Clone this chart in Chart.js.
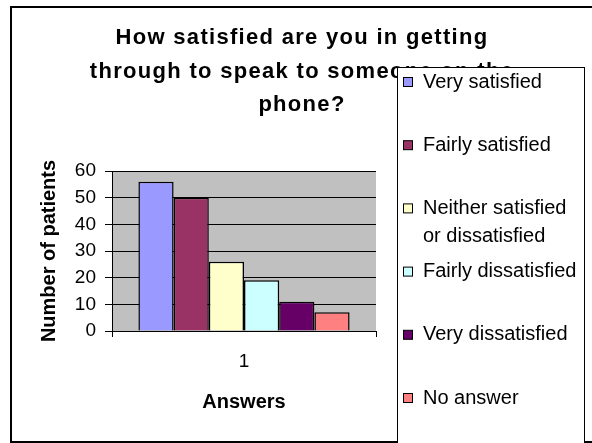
<!DOCTYPE html>
<html>
<head>
<meta charset="utf-8">
<script src="https://cdn.jsdelivr.net/npm/chart.js@4"></script>
<style>
  body { margin: 0; background: #fff; }
  canvas { display: block; }
</style>
</head>
<body>
<canvas id="chart" width="592" height="443"></canvas>
<script>
// Dados do grafico
const categorias = ["1"];
const respostas = ["Very satisfied", "Fairly satisfied", "Neither satisfied or dissatisfied",
  "Fairly dissatisfied", "Very dissatisfied", "No answer"];
const pacientes = [56, 50, 26, 19, 11, 7];
const cores = ["#9999FF", "#993366", "#FFFFCC", "#CCFFFF", "#660066", "#FF8080"];
const tituloLinhas = ["How satisfied are you in getting", "through to speak to someone on the", "phone?"];

const fonte = "'Liberation Sans', Arial, sans-serif";

// fundo cinza da area do grafico + moldura, titulo e legenda
const molduraPlugin = {
  id: "moldura",
  beforeDraw(chart) {
    const { ctx, chartArea: a } = chart;
    ctx.save();
    ctx.fillStyle = "#fff";
    ctx.fillRect(0, 0, chart.width, chart.height);
    ctx.fillStyle = "#C0C0C0";
    ctx.fillRect(a.left, a.top, a.right - a.left, a.bottom - a.top);
    ctx.restore();
  },
  afterDraw(chart) {
    const ctx = chart.ctx;
    ctx.save();
    // borda externa
    ctx.strokeStyle = "#000";
    ctx.lineWidth = 2;
    ctx.strokeRect(11, 7, 600, 435);

    // titulo
    ctx.fillStyle = "#000";
    ctx.font = "bold 22px " + fonte;
    ctx.letterSpacing = "1.3px";
    ctx.textAlign = "center";
    ctx.textBaseline = "middle";
    tituloLinhas.forEach((t, i) => ctx.fillText(t, 302, 38 + i * 33.5));
    ctx.letterSpacing = "0px";

    // legenda (sobrepoe o titulo como no original)
    ctx.fillStyle = "#fff";
    ctx.fillRect(397, 67, 187, 400);
    ctx.strokeStyle = "#000";
    ctx.lineWidth = 1;
    ctx.strokeRect(397.5, 67.5, 187, 400);

    ctx.font = "20px " + fonte;
    ctx.textAlign = "left";
    let y = 82;
    chart.data.datasets.forEach(ds => {
      // quebra de linha simples
      const palavras = ds.label.split(" ");
      const linhas = [];
      let atual = "";
      palavras.forEach(p => {
        const teste = atual ? atual + " " + p : p;
        if (ctx.measureText(teste).width > 158 && atual) {
          linhas.push(atual);
          atual = p;
        } else {
          atual = teste;
        }
      });
      linhas.push(atual);

      ctx.fillStyle = ds.backgroundColor;
      ctx.fillRect(403.5, y - 4.5, 9, 9);
      ctx.strokeStyle = "#000";
      ctx.strokeRect(403.5, y - 4.5, 9, 9);
      ctx.fillStyle = "#000";
      linhas.forEach((l, i) => ctx.fillText(l, 423, y + i * 28));
      y += 63.2;
    });
    ctx.restore();
  }
};

new Chart(document.getElementById("chart"), {
  type: "bar",
  data: {
    labels: categorias,
    datasets: respostas.map((r, i) => ({
      label: r,
      data: [pacientes[i]],
      backgroundColor: cores[i],
      borderColor: "#000",
      borderWidth: 1.5,
      categoryPercentage: 0.8,
      barPercentage: 1.0
    }))
  },
  options: {
    responsive: false,
    animation: false,
    layout: { padding: { left: 37, top: 171, right: 216, bottom: 29 } },
    plugins: {
      legend: { display: false },
      title: { display: false },
      tooltip: { enabled: false }
    },
    scales: {
      x: {
        afterFit: s => { s.height = 83; },
        grid: { display: true, drawOnChartArea: false, drawTicks: true, tickLength: 6, color: "#000" },
        border: { color: "#000", width: 1 },
        ticks: { color: "#000", font: { family: fonte, size: 19 }, padding: 13 },
        title: { display: true, text: "Answers", color: "#000", padding: 0,
                 font: { family: fonte, size: 20, weight: "bold" } }
      },
      y: {
        min: 0,
        max: 60,
        afterFit: s => { s.width = 75; },
        grid: { color: "#000", lineWidth: 1, tickLength: 7 },
        border: { color: "#000", width: 1 },
        ticks: { stepSize: 10, color: "#000", font: { family: fonte, size: 19 }, padding: 9 },
        title: { display: true, text: "Number of patients", color: "#000", padding: 0,
                 font: { family: fonte, size: 20, weight: "bold" } }
      }
    }
  },
  plugins: [molduraPlugin]
});
</script>
</body>
</html>
